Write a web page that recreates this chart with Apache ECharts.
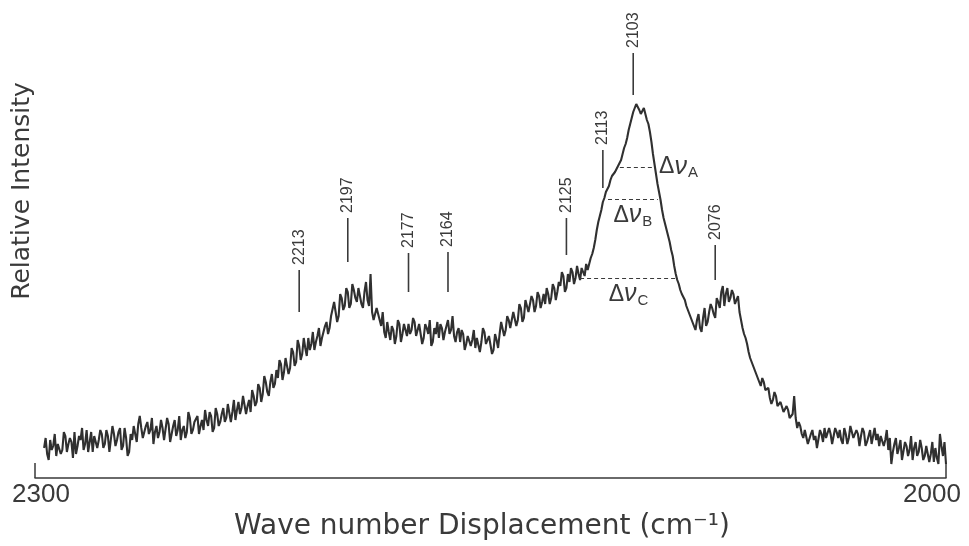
<!DOCTYPE html>
<html>
<head>
<meta charset="utf-8">
<script src="https://cdn.jsdelivr.net/npm/echarts@6/dist/echarts.min.js"></script>
<style>
  html, body { margin: 0; padding: 0; background: #fff; }
  #chart { width: 969px; height: 546px; }
</style>
</head>
<body>
<div id="chart"></div>
<script>
// spectrum read every 0.5 cm-1: whole wavenumbers from 2297 down to 2000 ...
const waveStart = 2297;
const intensity = [
  7.5, 6.0, 9.5, 8.0, 5.5, 9.0, 7.0, 10.5, 8.5, 9.0,
  11.5, 8.0, 9.5, 7.0, 12.0, 9.0, 6.5, 10.0, 9.5, 11.0,
  8.5, 10.5, 7.0, 11.0, 9.5, 12.5, 8.0, 10.0, 6.5, 9.5,
  11.0, 13.5, 12.5, 9.5, 14.0, 12.0, 8.5, 13.0, 11.5, 12.5,
  10.0, 13.5, 11.0, 14.5, 12.0, 9.5, 13.0, 11.5, 15.0, 12.0,
  13.5, 11.0, 14.5, 17.0, 13.0, 15.5, 12.5, 16.0, 14.0, 17.5,
  15.0, 18.0, 16.5, 14.5, 19.0, 17.5, 21.0, 18.0, 16.5, 20.5,
  19.0, 22.5, 21.0, 24.0, 20.5, 26.0, 23.5, 25.0, 28.5, 26.5,
  30.0, 27.5, 31.5, 29.0, 33.0, 31.0, 32.5, 35.0, 33.5, 32.0,
  35.5, 33.0, 36.5, 39.0, 37.5, 41.0, 43.5, 40.5, 45.0, 43.0,
  46.5, 43.5, 47.0, 44.0, 45.5, 42.5, 49.0, 43.0, 41.5, 40.0,
  41.0, 38.0, 36.5, 39.0, 34.5, 37.0, 35.5, 38.5, 36.0, 37.0,
  38.5, 37.0, 39.0, 36.0, 38.0, 35.0, 37.5, 39.5, 34.0, 36.0,
  35.0, 37.5, 36.5, 39.5, 37.0, 35.5, 36.5, 34.0, 36.0, 33.5,
  36.0, 34.5, 32.5, 35.5, 34.0, 36.5, 33.0, 35.0, 32.0, 34.5,
  36.0, 38.5, 37.0, 39.5, 38.0, 41.0, 39.5, 42.5, 40.0, 43.0,
  42.0, 44.5, 43.0, 45.5, 44.0, 43.5, 46.0, 45.0, 47.5, 46.5,
  48.0, 50.5, 47.5, 49.0, 51.5, 50.0, 51.0, 52.5, 50.5, 52.0,
  55.0, 57.5, 62.0, 65.5, 69.0, 71.5, 73.0, 75.5, 76.5, 78.0,
  79.5, 82.5, 85.0, 88.5, 91.5, 93.5, 92.0, 90.5, 91.0, 88.5,
  84.0, 78.5, 73.5, 69.5, 65.0, 62.0, 59.0, 55.5, 51.0, 48.5,
  46.0, 44.5, 42.0, 40.5, 38.5, 39.5, 37.5, 40.0, 38.0, 41.5,
  42.5, 40.0, 44.0, 46.5, 43.0, 47.5, 45.0, 46.0, 44.0, 41.5,
  37.5, 35.0, 31.5, 29.0, 27.0, 25.5, 23.0, 24.0, 21.5, 20.0,
  19.5, 20.5, 17.5, 18.5, 16.0, 17.0, 14.5, 20.5, 12.5, 13.0,
  10.0, 11.5, 9.0, 12.0, 10.5, 8.0, 11.0, 12.5, 9.5, 11.0,
  9.0, 11.5, 12.0, 8.5, 11.0, 10.0, 12.5, 9.5, 11.0, 10.5,
  11.5, 9.0, 12.0, 10.5, 9.5, 8.0, 11.0, 9.5, 7.0, 3.5,
  8.5, 6.0, 9.5, 5.0, 8.0, 7.0, 4.5, 9.0, 6.5, 7.5,
  5.5, 8.5, 6.0, 4.0, 5.0, 11.0, 5.5, 3.5
];
// ... and the half wavenumbers in between, 2296.5 down to 2000.5
const intensityHalf = [
  10.0, 4.5, 7.0, 11.0, 8.5, 6.0, 11.5, 6.5, 10.0, 5.0,
  6.0, 10.5, 12.5, 8.5, 6.5, 11.5, 10.5, 7.5, 12.0, 7.5,
  12.0, 6.5, 13.0, 8.0, 11.5, 7.0, 12.5, 5.5, 11.0, 13.0,
  9.0, 15.5, 10.0, 13.0, 11.0, 15.0, 11.5, 10.0, 14.5, 9.5,
  15.0, 9.0, 13.0, 10.5, 15.5, 12.0, 10.0, 16.5, 11.0, 14.0,
  15.5, 13.0, 12.0, 14.5, 16.5, 11.5, 17.5, 13.0, 16.0, 14.0,
  18.5, 14.0, 19.5, 17.0, 16.0, 20.5, 16.0, 19.5, 22.0, 18.0,
  23.5, 19.0, 25.5, 21.5, 24.0, 22.5, 27.0, 29.5, 24.5, 30.0,
  26.0, 32.5, 28.0, 34.5, 29.5, 35.0, 30.5, 32.0, 36.5, 34.0,
  37.5, 35.0, 38.0, 36.0, 40.5, 44.0, 39.0, 46.0, 42.0, 47.5,
  42.5, 48.5, 45.0, 47.5, 43.5, 46.5, 44.5, 51.0, 39.5, 42.5,
  39.5, 41.5, 35.0, 36.5, 38.0, 33.5, 39.5, 34.0, 38.5, 35.5,
  36.0, 40.0, 35.5, 38.5, 33.5, 38.5, 36.0, 33.0, 37.5, 39.0,
  38.5, 34.5, 38.0, 36.0, 40.5, 34.0, 37.5, 37.0, 32.0, 35.5,
  33.0, 37.0, 35.0, 31.5, 37.5, 33.5, 35.5, 31.0, 36.0, 32.5,
  39.0, 35.5, 40.5, 37.5, 41.5, 38.0, 43.5, 39.0, 44.5, 41.5,
  45.5, 41.5, 46.5, 42.5, 46.0, 47.5, 43.5, 48.5, 44.5, 49.0,
  51.5, 46.5, 51.0, 52.5, 48.5, 53.0, 49.5, 51.5, 53.5, 53.5,
  56.0, 59.5, 64.0, 67.0, 70.0, 72.0, 74.5, 76.0, 77.0, 78.5,
  81.0, 83.5, 87.0, 90.0, 92.5, 94.0, 91.0, 92.5, 89.5, 86.5,
  81.0, 76.0, 71.5, 67.0, 63.5, 60.5, 57.0, 53.0, 49.5, 47.0,
  45.5, 43.0, 41.0, 39.0, 37.0, 41.0, 36.5, 42.5, 39.0, 43.5,
  41.0, 45.0, 42.5, 48.0, 46.0, 44.0, 47.0, 43.5, 45.5, 39.5,
  36.0, 33.5, 30.0, 28.0, 26.0, 24.0, 25.0, 22.0, 22.5, 18.5,
  21.5, 18.0, 19.0, 16.5, 18.0, 15.0, 16.0, 15.0, 14.0, 11.0,
  12.0, 8.5, 11.0, 9.5, 7.5, 12.0, 9.0, 10.0, 12.5, 8.5,
  12.5, 10.0, 9.5, 12.5, 8.5, 13.0, 10.0, 12.0, 8.0, 12.5,
  8.0, 10.5, 8.5, 12.5, 11.0, 10.5, 8.0, 12.0, 10.0, 6.5,
  10.0, 7.5, 4.5, 9.0, 5.5, 10.5, 7.5, 5.5, 9.5, 4.5,
  8.0, 4.0, 9.0, 7.5, 3.5, 8.0, 9.0
];

// peak markers: wavenumber, bottom and top of the marker stroke
const peakWaves = [2213, 2197, 2177, 2164, 2125, 2113, 2103, 2076];
const peakLineLow = [41.5, 54.0, 46.5, 46.5, 55.75, 72.5, 95.75, 49.5];
const peakLineHigh = [52.0, 65.0, 56.25, 56.5, 65.0, 82.0, 106.25, 58.25];

// half-width levels
const deltaNames = ["A", "B", "C"];
const deltaLevel = [77.75, 69.75, 50.0];
const deltaFrom = [2107.4, 2111.3, 2120.5];
const deltaTo = [2095.8, 2094.9, 2088.6];

const axisTicks = [2000, 2300];

const ink = "#3a3a3a";
const trace = "#303030";
const sans = '"Liberation Sans", Arial, sans-serif';
const wide = '"DejaVu Sans", sans-serif';

const spectrum = [];
intensity.forEach((v, i) => {
  spectrum.push([waveStart - i, v]);
  if (i < intensityHalf.length) {
    spectrum.push([waveStart - i - 0.5, intensityHalf[i]]);
  }
});
const peaks = peakWaves.map((w, i) => [w, peakLineLow[i], peakLineHigh[i]]);

const deltaLabelPos = ["end", "insideMiddleBottom", "insideMiddleBottom"];
const deltaLines = deltaNames.map((name, i) => [
  {
    coord: [deltaFrom[i], deltaLevel[i]],
    label: {
      show: true,
      position: deltaLabelPos[i],
      distance: i === 0 ? 4 : 3,
      formatter: `{d|Δ}{n|ν}{s|${name}}`,
      rich: {
        d: { fontSize: 23, fontFamily: sans, color: ink },
        n: { fontSize: 25, fontFamily: sans, fontStyle: "italic", color: ink },
        s: { fontSize: 15, fontFamily: sans, color: ink, verticalAlign: "bottom", padding: [12, 0, 0, 1] },
      },
    },
  },
  { coord: [deltaTo[i], deltaLevel[i]] },
]);

const chart = echarts.init(document.getElementById("chart"), null, { renderer: "canvas" });

chart.setOption({
  animation: false,
  backgroundColor: "#fff",
  grid: { left: 35, right: 23, top: 0, bottom: 68, outerBoundsMode: "none" },
  xAxis: {
    type: "value",
    min: 2000,
    max: 2300,
    inverse: true,
    name: "Wave number Displacement (cm⁻¹)",
    nameLocation: "middle",
    nameGap: 34,
    nameTextStyle: { fontSize: 28, fontFamily: wide, color: ink, padding: [0, 17, 0, 0] },
    axisLine: { lineStyle: { color: ink, width: 1.5 } },
    axisTick: { show: true, inside: true, length: 15, customValues: axisTicks, lineStyle: { color: ink, width: 1.5 } },
    axisLabel: {
      customValues: axisTicks,
      margin: 4,
      formatter: (v) => (v === 2300 ? `{l|${v}}` : `{r|${v}}`),
      rich: {
        l: { fontSize: 26, fontFamily: sans, color: ink, padding: [0, 0, 0, 12] },
        r: { fontSize: 26, fontFamily: sans, color: ink, padding: [0, 28, 0, 0] },
      },
    },
    splitLine: { show: false },
  },
  yAxis: {
    type: "value",
    min: 0,
    max: 119.5,
    name: "Relative Intensity",
    nameLocation: "middle",
    nameRotate: 90,
    nameGap: 0,
    nameTextStyle: { fontSize: 25, fontFamily: wide, color: ink, padding: [0, 0, 0, 96] },
    axisLine: { show: false },
    axisTick: { show: false },
    axisLabel: { show: false },
    splitLine: { show: false },
  },
  series: [
    {
      type: "line",
      data: spectrum,
      symbol: "none",
      lineStyle: { color: trace, width: 2.1 },
      markLine: {
        silent: true,
        symbol: ["none", "none"],
        lineStyle: { color: ink, width: 1, type: [4, 3] },
        data: deltaLines,
      },
    },
    {
      type: "custom",
      clip: false,
      encode: { x: 0, y: [1, 2] },
      data: peaks,
      renderItem: (params, api) => {
        const w = api.value(0);
        const p0 = api.coord([w, api.value(1)]);
        const p1 = api.coord([w, api.value(2)]);
        return {
          type: "group",
          children: [
            {
              type: "line",
              shape: { x1: p0[0], y1: p0[1], x2: p1[0], y2: p1[1] },
              style: { stroke: ink, lineWidth: 1.6 },
            },
            {
              type: "text",
              x: p1[0],
              y: p1[1] - 5,
              rotation: Math.PI / 2,
              style: {
                text: String(w),
                font: `16px ${sans}`,
                fill: ink,
                align: "left",
                verticalAlign: "middle",
              },
            },
          ],
        };
      },
    },
  ],
});
</script>
</body>
</html>
